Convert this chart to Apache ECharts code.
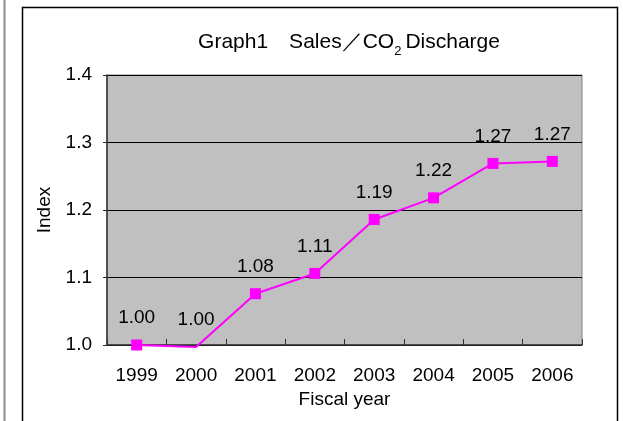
<!DOCTYPE html>
<html>
<head>
<meta charset="utf-8">
<script src="https://cdn.jsdelivr.net/npm/echarts@6/dist/echarts.min.js"></script>
<style>
  html, body { margin: 0; padding: 0; background: #ffffff; }
  #chart { width: 623px; height: 421px; }
</style>
</head>
<body>
<div id="chart"></div>
<script>
// Fiscal years on the x axis
const years = ['1999', '2000', '2001', '2002', '2003', '2004', '2005', '2006'];
// Sales / CO2 discharge index (1999 = 1.00)
const indexValues = [1.000, 0.997, 1.076, 1.106, 1.186, 1.218, 1.269, 1.272];
// Value axis range and step
const yMin = 1.0;
const yMax = 1.4;
const yStep = 0.1;

const FONT = '"Liberation Sans", Arial, sans-serif';
const MAGENTA = '#ff00ff';

const chart = echarts.init(document.getElementById('chart'), null, { renderer: 'canvas' });

chart.setOption({
  animation: false,
  backgroundColor: '#ffffff',
  graphic: [
    // page rule at the far left
    { type: 'line', shape: { x1: 4.5, y1: 0, x2: 4.5, y2: 421 },
      style: { stroke: '#8c8c8c', lineWidth: 2 } },
    // chart frame
    { type: 'rect', shape: { x: 22.5, y: 7.5, width: 595, height: 430 },
      style: { fill: 'none', stroke: '#000000', lineWidth: 1.5 } }
  ],
  title: {
    text: '{a|Graph1　Sales／CO}{s|2}{a|Discharge}',
    left: 344,
    textAlign: 'center',
    top: 25,
    padding: 5,
    textStyle: {
      fontWeight: 'normal',
      rich: {
        a: { fontFamily: FONT, fontSize: 21, fontWeight: 'normal', color: '#000', verticalAlign: 'bottom', lineHeight: 23 },
        s: { fontFamily: FONT, fontSize: 13, fontWeight: 'normal', color: '#000', verticalAlign: 'bottom', lineHeight: 23, padding: [0, 4, -5, 0] }
      }
    }
  },
  grid: {
    left: 107, right: 41, top: 75, bottom: 76,
    show: true,
    backgroundColor: '#c0c0c0',
    borderColor: '#808080',
    borderWidth: 1
  },
  xAxis: {
    type: 'category',
    data: years,
    boundaryGap: true,
    name: 'Fiscal year',
    nameLocation: 'middle',
    nameGap: 44,
    nameTextStyle: { fontFamily: FONT, fontSize: 19, color: '#000' },
    axisLine: { lineStyle: { color: '#303030', width: 1.5 } },
    axisTick: { show: true, inside: true, length: 6, lineStyle: { color: '#303030' } },
    axisLabel: { fontFamily: FONT, fontSize: 19, color: '#000', margin: 21 },
    splitLine: { show: false }
  },
  yAxis: {
    type: 'value',
    min: yMin,
    max: yMax,
    interval: yStep,
    name: 'Index',
    nameLocation: 'middle',
    nameGap: 49,
    nameRotate: 90,
    nameTextStyle: { fontFamily: FONT, fontSize: 19, color: '#000' },
    axisLine: { show: true, lineStyle: { color: '#303030', width: 1.5 } },
    axisTick: { show: true, inside: false, length: 4, lineStyle: { color: '#303030' } },
    axisLabel: {
      fontFamily: FONT, fontSize: 19, color: '#000', margin: 15,
      formatter: v => v.toFixed(1)
    },
    splitLine: { show: true, lineStyle: { color: '#000000', width: 1 } }
  },
  series: [{
    type: 'line',
    clip: false,
    data: indexValues.map(v => ({
      value: v,
      // a point that falls under the axis minimum keeps its label but hides its marker
      itemStyle: { color: v < yMin ? 'rgba(0,0,0,0)' : MAGENTA }
    })),
    symbol: 'rect',
    symbolSize: 11,
    lineStyle: { color: MAGENTA, width: 2 },
    itemStyle: { color: MAGENTA },
    label: {
      show: true,
      position: 'top',
      distance: 12,
      fontFamily: FONT,
      fontSize: 19,
      color: '#000',
      formatter: p => p.value.toFixed(2)
    },
    z: 3
  }]
});
</script>
</body>
</html>
